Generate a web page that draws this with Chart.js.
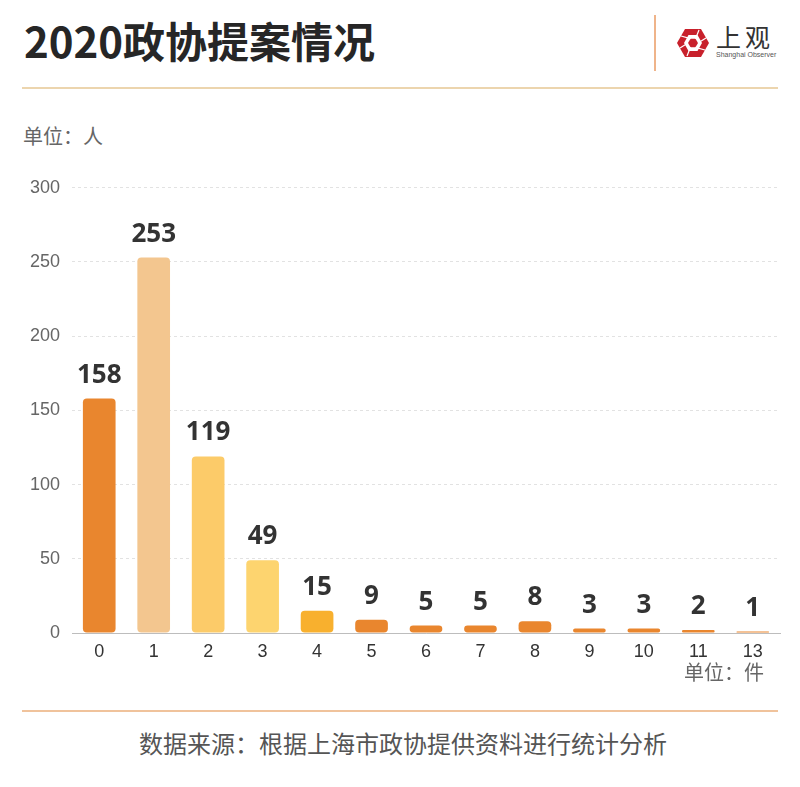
<!DOCTYPE html>
<html>
<head>
<meta charset="utf-8">
<script src="https://cdn.jsdelivr.net/npm/chart.js@4.4.0/dist/chart.umd.min.js"></script>
<style>
  body { margin: 0; background: #fff; width: 800px; height: 787px; position: relative; overflow: hidden;
         font-family: "Noto Sans CJK SC", "Noto Sans", sans-serif; }
  .abs { position: absolute; }
  #title { left: 24px; top: 19px; font-size: 42px; font-weight: bold; color: #262626; line-height: 1; white-space: nowrap; }
  #topLine { left: 22px; top: 87px; width: 756px; height: 2px; background: #ecd5ae; }
  #vLine { left: 654px; top: 15px; width: 2px; height: 56px; background: #efb48a; }
  #logoCn { left: 716px; top: 21px; font-size: 25px; color: #333; letter-spacing: 4px; line-height: 1.2; }
  #logoEn { left: 716px; top: 51px; font-size: 7px; color: #555; font-family: "Liberation Sans", sans-serif; white-space: nowrap; }
  #unitY { left: 23px; top: 124px; font-size: 20px; color: #666; line-height: 1.2; }
  #unitX { left: 684px; top: 660px; font-size: 20px; color: #666; line-height: 1.2; }
  #botLine { left: 22px; top: 710px; width: 756px; height: 2px; background: #f0c39c; }
  #source { left: 0; top: 729px; width: 806px; text-align: center; font-size: 24px; color: #555; line-height: 1.2; }
  #wrap { left: 0; top: 165px; width: 800px; height: 505px; }
</style>
</head>
<body>
<div class="abs" id="title">2020政协提案情况</div>
<div class="abs" id="topLine"></div>
<div class="abs" id="vLine"></div>
<svg class="abs" style="left:674px;top:24px" width="38" height="38" viewBox="-19 -19 38 38">
  <polygon points="-16,0 -8,-14 8,-14 16,0 8,14 -8,14" fill="#c8202b"/>
  <polygon points="-9,0 -4.5,-8 4.5,-8 9,0 4.5,8 -4.5,8" fill="#fff"/>
  <polygon points="-5,0 -2.5,-4.3 2.5,-4.3 5,0 2.5,4.3 -2.5,4.3" fill="#c8202b"/>
  <g stroke="#fff" stroke-width="1.2">
    <line x1="-2.5" y1="-4.3" x2="-12" y2="-7"/>
    <line x1="2.5" y1="-4.3" x2="6" y2="-13"/>
    <line x1="5" y1="0" x2="13" y2="-5"/>
    <line x1="2.5" y1="4.3" x2="12" y2="7"/>
    <line x1="-2.5" y1="4.3" x2="-6" y2="13"/>
    <line x1="-5" y1="0" x2="-13" y2="5"/>
  </g>
</svg>
<div class="abs" id="logoCn">上观</div>
<div class="abs" id="logoEn">Shanghai Observer</div>
<div class="abs" id="unitY">单位：人</div>
<div class="abs" id="wrap"><canvas id="myChart" width="800" height="505"></canvas></div>
<div class="abs" id="unitX">单位：件</div>
<div class="abs" id="botLine"></div>
<div class="abs" id="source">数据来源：根据上海市政协提供资料进行统计分析</div>

<script>
// 提案件数（类别）
var categories = ['0', '1', '2', '3', '4', '5', '6', '7', '8', '9', '10', '11', '13'];
// 人数
var values = [158, 253, 119, 49, 15, 9, 5, 5, 8, 3, 3, 2, 1];
var barColors = ['#e9862e', '#f3c68f', '#fccb69', '#fdd46f', '#f8b02e', '#e9862e', '#e9862e',
  '#e9862e', '#e9862e', '#e9862e', '#e9862e', '#e9862e', '#e9862e'];
var yTicks = [0, 50, 100, 150, 200, 250, 300];

// 柱顶数值
var valueLabels = {
  id: 'valueLabels',
  afterDatasetsDraw: function (chart) {
    var ctx = chart.ctx;
    var meta = chart.getDatasetMeta(0);
    ctx.save();
    ctx.font = 'bold 26px "Noto Sans", "Noto Sans CJK SC", sans-serif';
    ctx.fillStyle = '#333';
    ctx.textAlign = 'center';
    ctx.textBaseline = 'alphabetic';
    meta.data.forEach(function (bar, i) {
      ctx.fillText(String(values[i]), bar.x, bar.y - 16);
    });
    ctx.restore();
  }
};

var ctx = document.getElementById('myChart').getContext('2d');
var myChart = new Chart(ctx, {
  type: 'bar',
  data: {
    labels: categories,
    datasets: [{
      data: values,
      backgroundColor: barColors,
      borderRadius: 4,
      borderSkipped: false,
      barPercentage: 0.6,
      categoryPercentage: 1
    }]
  },
  options: {
    responsive: false,
    animation: false,
    layout: { padding: { top: 12, right: 20, left: 0, bottom: 0 } },
    plugins: { legend: { display: false }, tooltip: { enabled: false } },
    scales: {
      x: {
        grid: { display: false },
        border: { display: true, color: '#bdbdbd', width: 1 },
        ticks: { color: '#333', padding: 0, font: { family: '"Liberation Sans", sans-serif', size: 18 } },
        afterFit: function (scale) { scale.height = 37; }
      },
      y: {
        min: 0,
        max: 300,
        afterBuildTicks: function (scale) {
          scale.ticks = yTicks.map(function (v) { return { value: v }; });
        },
        grid: { color: '#e2e2e2', drawTicks: false, lineWidth: 1 },
        border: { display: false, dash: [3, 3] },
        ticks: { color: '#666', padding: 12, font: { family: '"Liberation Sans", sans-serif', size: 18 } },
        afterFit: function (scale) { scale.width = 72; }
      }
    }
  },
  plugins: [valueLabels]
});
</script>
</body>
</html>
